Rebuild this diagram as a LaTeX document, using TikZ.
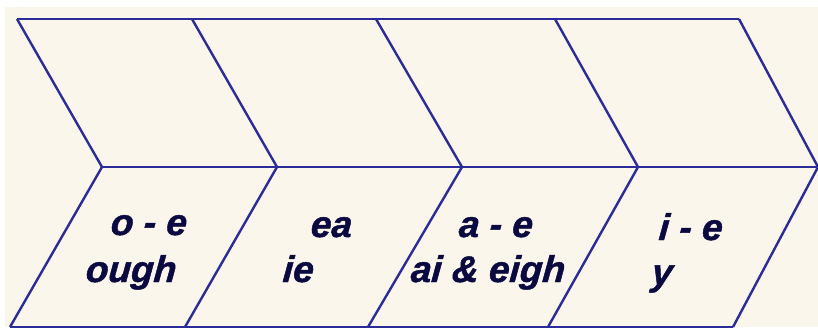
\documentclass[tikz,border=0pt]{standalone}
\usepackage{fontspec}
\setmainfont{Liberation Sans}[BoldItalicFeatures={FakeBold=1.2,FakeSlant=0.08}]
\usepackage{tikz}

\definecolor{paper}{HTML}{FAF6EC}
\definecolor{rule}{HTML}{2C2C98}
\definecolor{ink}{HTML}{0A0A40}

\begin{document}
\begin{tikzpicture}[
  x=1pt, y=-1pt,
  outline/.style={draw=rule, line width=2.4pt, line join=miter},
  spelling/.style={anchor=base west, inner sep=0pt, text=ink,
    font=\fontsize{37}{40}\selectfont\bfseries\itshape}
]
\useasboundingbox (0,0) rectangle (818,327);
\fill[white] (0,0) rectangle (818,327);
\fill[paper] (5,7) rectangle (818,327);

% top row
\draw[outline] (17,19) -- (739,19);
\draw[outline] (17,19) -- (102,167);
\draw[outline] (192,19) -- (277,167);
\draw[outline] (376,19) -- (462,167);
\draw[outline] (555,19) -- (638,167);
\draw[outline] (739,19) -- (818,167);
\draw[outline] (102,167) -- (818,167);

% bottom row
\draw[outline] (102,167) -- (10,327);
\draw[outline] (277,167) -- (185,327);
\draw[outline] (462,167) -- (368,327);
\draw[outline] (638,167) -- (548,327);
\draw[outline] (818,167) -- (733,327);
\draw[outline] (10,327) -- (733,327);

% vowel sounds
\node[spelling] (oe) at (110,235) {o - e};
\node[spelling] (ough) at (85,282) {ough};
\node[spelling] (ea) at (310,237) {ea};
\node[spelling] (ie) at (282,282) {ie};
\node[spelling] (ae) at (458,237) {a - e};
\node[spelling] (aieigh) at (410,282) {ai \& eigh};
\node[spelling] (iie) at (658,240) {i - e};
\node[spelling] (y) at (651,285) {y};

\end{tikzpicture}
\end{document}
